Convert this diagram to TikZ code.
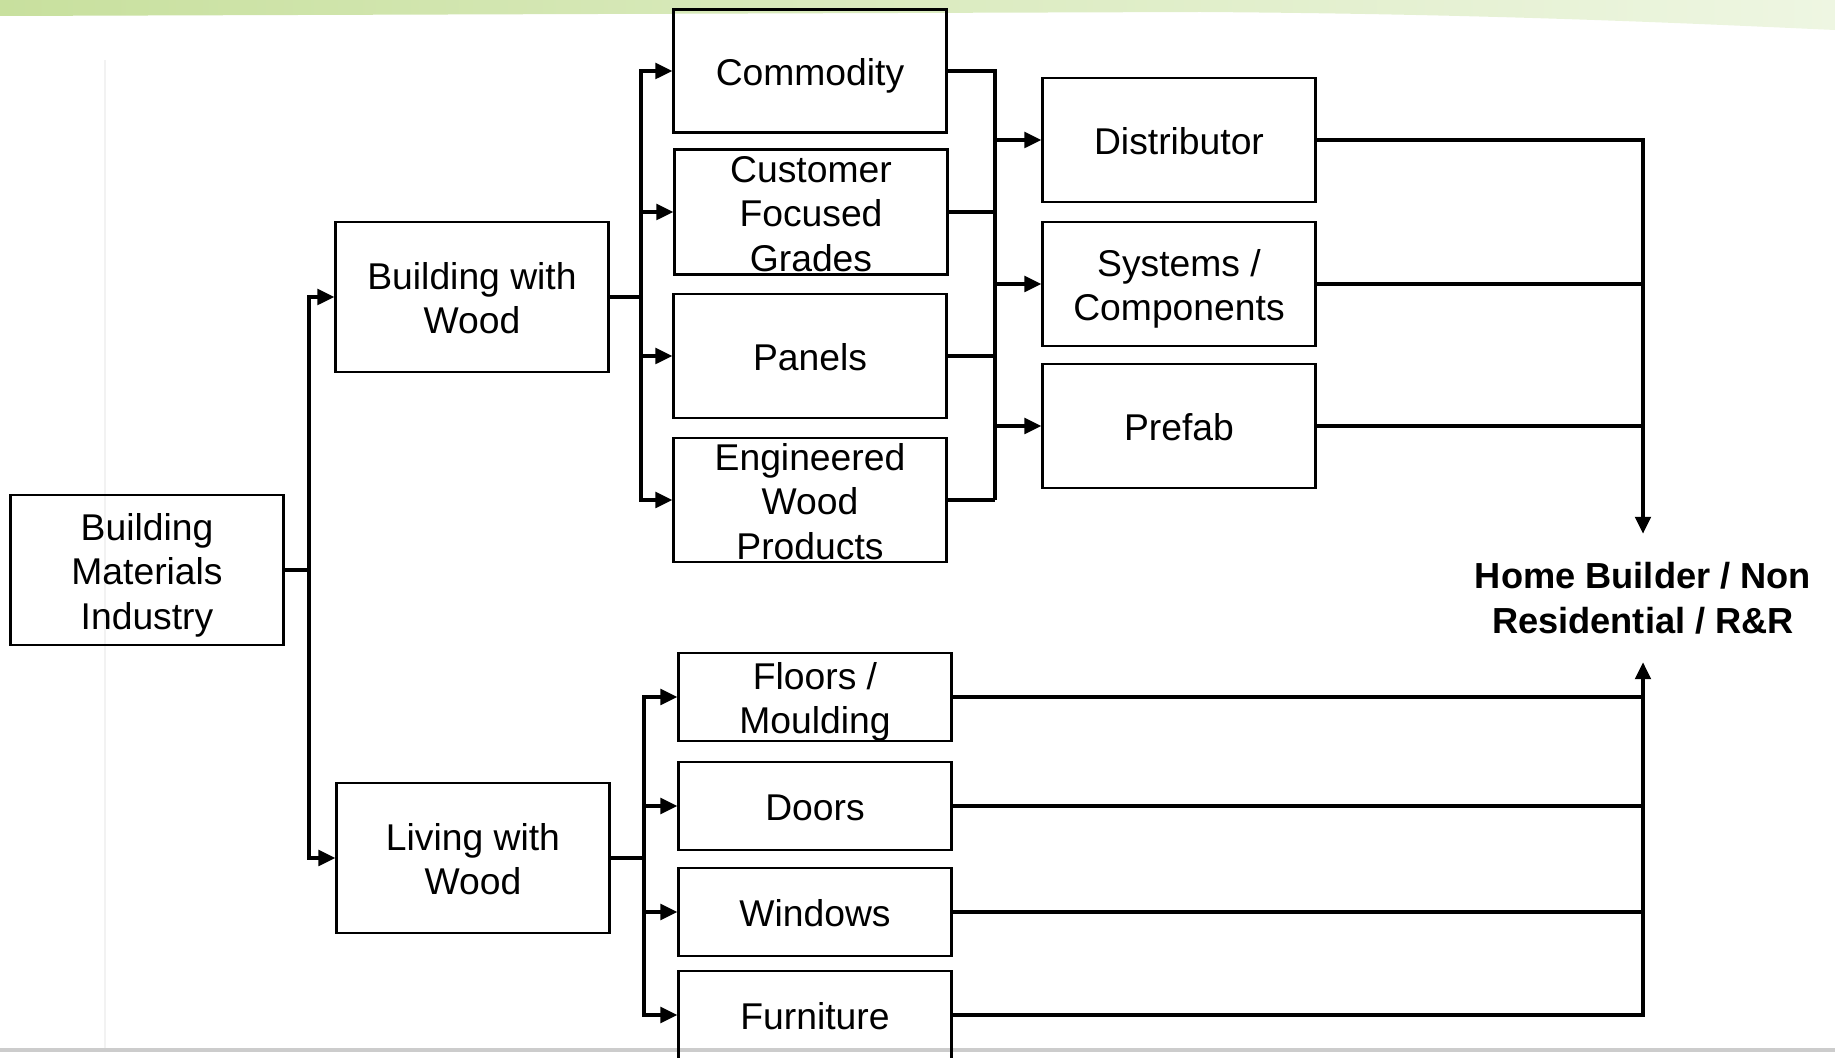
\documentclass[tikz,border=0pt]{standalone}
\usepackage{fontspec}
\setmainfont{Liberation Sans}
\usetikzlibrary{arrows.meta}
\definecolor{bandleft}{RGB}{200,224,158}
\definecolor{bandright}{RGB}{238,246,226}
\newcommand\topstrut{\rule{0pt}{\dimexpr0.905em+1pt\relax}}
\newcommand\botstrut{\rule[-0.212em]{0pt}{0pt}}
\tikzset{
  box/.style={draw, line width=0.7pt, rectangle, inner xsep=0pt, inner ysep=-1.5pt,
    align=center, minimum width=2.727cm, font=\fontsize{10.6}{12.66}\selectfont,
    execute at begin node=\topstrut, execute at end node=\botstrut},
  link/.style={draw, line width=1pt},
  arr/.style={link, -{Triangle[length=4.8pt,width=4.4pt]}},
}
\begin{document}
\begin{tikzpicture}[x=0.01cm, y=-0.01cm]
\useasboundingbox (0,0) rectangle (1835,1058);
% slide background
\shade[left color=bandleft, right color=bandright] (0,0) -- (1835,0) -- (1835,30)
  .. controls (1700,24) and (1500,14) .. (1200,12) -- (0,16) -- cycle;
\draw[black!5, line width=0.3pt] (105,60) -- (105,1048);
\draw[black!20, line width=1.1pt] (0,1050) -- (1835,1050);

\node[box, minimum height=1.5cm] (bmi) at (147,570) {\topstrut Building\\Materials\\Industry};
\node[box, minimum height=1.5cm] (bww) at (472,297) {\topstrut Building with\\Wood};
\node[box, minimum height=1.5cm] (lww) at (473,858) {\topstrut Living with\\Wood};

\node[box, minimum height=1.23cm] (com) at (810,71) {Commodity};
\node[box, minimum height=1.25cm] (cfg) at (811,212) {\topstrut Customer\\Focused\\Grades};
\node[box, minimum height=1.24cm] (pan) at (810,356) {Panels};
\node[box, minimum height=1.24cm] (eng) at (810,500) {\topstrut Engineered\\Wood\\Products};

\node[box, minimum height=1.24cm] (dis) at (1179,140) {Distributor};
\node[box, minimum height=1.24cm] (sys) at (1179,284) {\topstrut Systems /\\Components};
\node[box, minimum height=1.24cm] (pre) at (1179,426) {Prefab};

\node[box, minimum height=0.88cm] (flo) at (815,697) {\topstrut Floors /\\Moulding};
\node[box, minimum height=0.88cm] (doo) at (815,806) {Doors};
\node[box, minimum height=0.88cm] (win) at (815,912) {Windows};
\node[box, minimum height=0.88cm] (fur) at (815,1015) {Furniture};

\node[font=\bfseries\fontsize{10.3}{12.66}\selectfont, align=center,
  inner xsep=0pt, inner ysep=7.9pt] (hb) at (1643,598) {Home Builder / Non\\Residential / R\&R};

\coordinate (j1) at (309,570);
\coordinate (j2) at (641,297);
\coordinate (j3) at (995,500);
\coordinate (j4) at (644,858);

\path[link] (bmi.east) -- (j1);
\path[arr] (j1) |- (bww.west);
\path[arr] (j1) |- (lww.west);

\path[link] (bww.east) -- (j2);
\path[arr] (j2) |- (com.west);
\path[arr] (j2) |- (cfg.west);
\path[arr] (j2) |- (pan.west);
\path[arr] (j2) |- (eng.west);

\path[link] (com.east) -| (j3);
\path[link] (cfg.east) -- (cfg.east -| j3);
\path[link] (pan.east) -- (pan.east -| j3);
\path[link] (eng.east) -- (j3);
\path[arr] (j3 |- dis.west) -- (dis.west);
\path[arr] (j3 |- sys.west) -- (sys.west);
\path[arr] (j3 |- pre.west) -- (pre.west);

\path[arr] (dis.east) -| (hb.north);
\path[link] (sys.east) -- (sys.east -| hb);
\path[link] (pre.east) -- (pre.east -| hb);

\path[link] (lww.east) -- (j4);
\path[arr] (j4) |- (flo.west);
\path[arr] (j4) |- (doo.west);
\path[arr] (j4) |- (win.west);
\path[arr] (j4) |- (fur.west);

\path[arr] (fur.east) -| (hb.south);
\path[link] (flo.east) -- (flo.east -| hb);
\path[link] (doo.east) -- (doo.east -| hb);
\path[link] (win.east) -- (win.east -| hb);
\end{tikzpicture}
\end{document}
